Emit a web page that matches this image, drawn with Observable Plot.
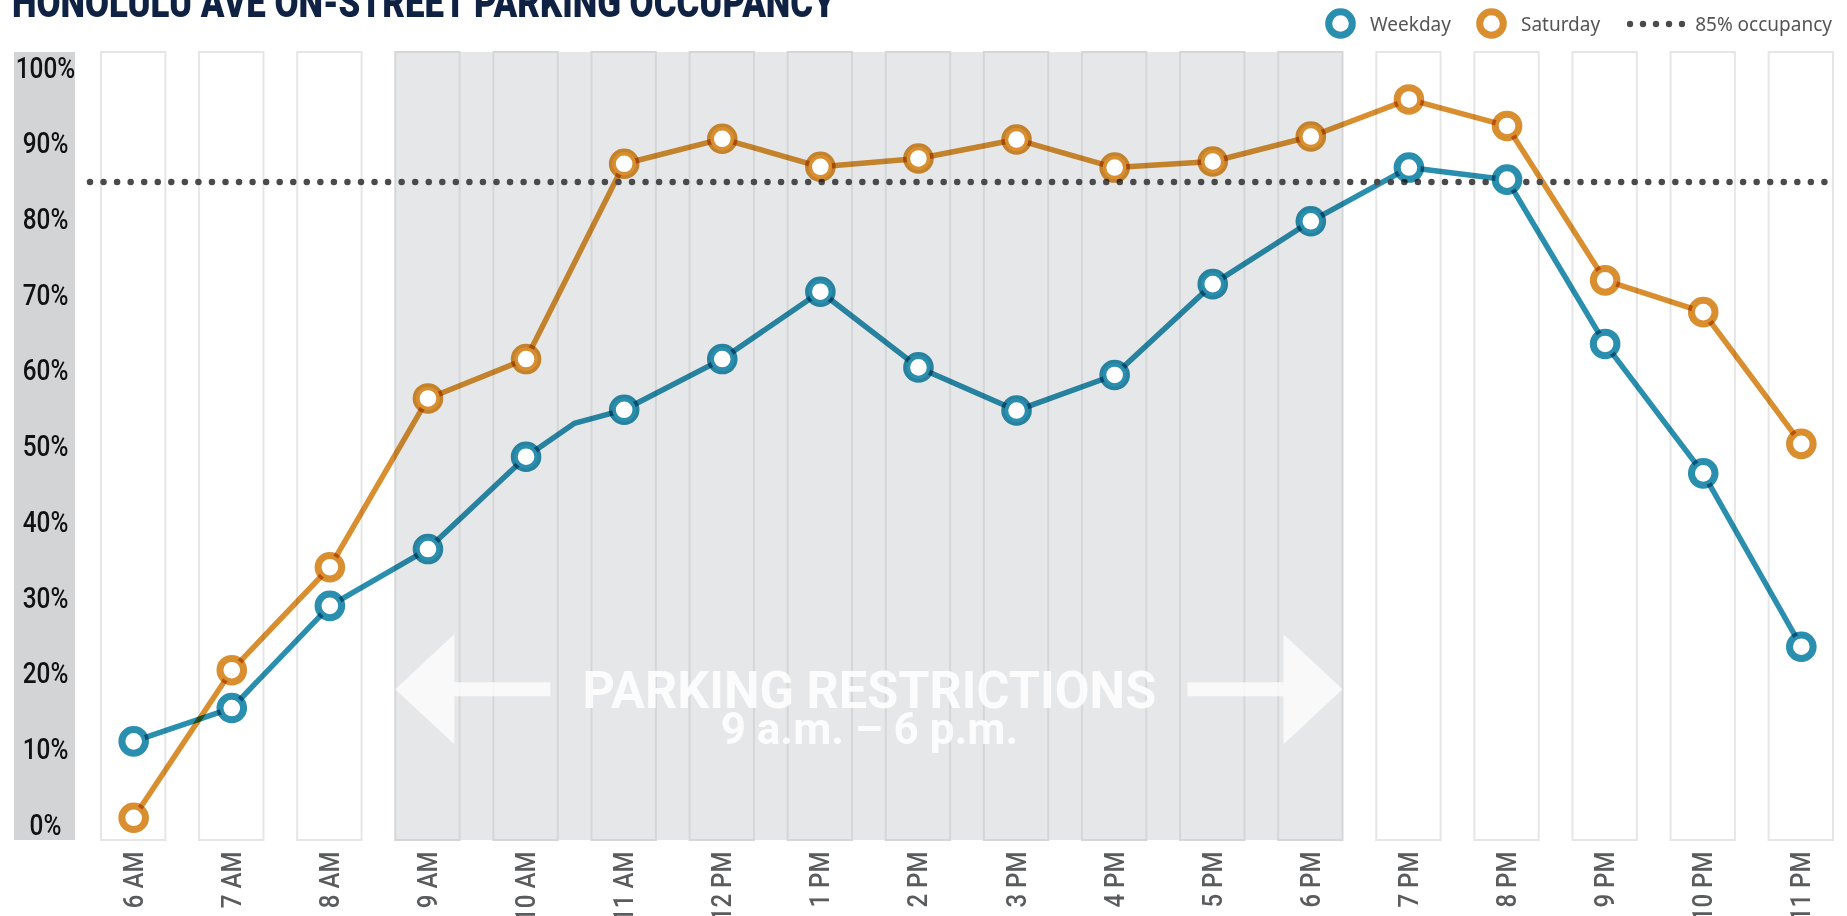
<!DOCTYPE html>
<html>
<head>
<meta charset="utf-8">
<script src="https://cdn.jsdelivr.net/npm/d3@7"></script>
<script src="https://cdn.jsdelivr.net/npm/@observablehq/plot@0.6"></script>
<style>
html, body { margin: 0; padding: 0; background: #fff; width: 1847px; height: 916px; overflow: hidden; }
#wrap { position: relative; width: 1847px; height: 916px; }
#chart { position: absolute; left: 0; top: 0; }
#title { position: absolute; left: 12px; top: -18px; font-family: Roboto, "Liberation Sans", sans-serif; font-weight: 900; font-size: 42px; line-height: 42px; color: #0f2244; white-space: nowrap; transform-origin: 0 0; }
#legend { position: absolute; top: 8px; right: 15px; display: flex; align-items: center; font-family: "Noto Sans", sans-serif; font-size: 19px; color: #555; }
#legend svg { display: block; }
</style>
</head>
<body>
<div id="wrap"><div id="chart"></div><div id="title"></div><div id="legend"></div></div>
<script>
// ---------- data ----------
const hours = [6, 7, 8, 9, 10, 11, 12, 13, 14, 15, 16, 17, 18, 19, 20, 21, 22, 23];
const hourLabels = ["6 AM", "7 AM", "8 AM", "9 AM", "10 AM", "11 AM", "12 PM", "1 PM", "2 PM", "3 PM", "4 PM", "5 PM", "6 PM", "7 PM", "8 PM", "9 PM", "10 PM", "11 PM"];
const weekday  = [11.1, 15.5, 29.0, 36.5, 48.7, 54.9, 61.6, 70.5, 60.5, 54.8, 59.5, 71.5, 79.8, 86.9, 85.3, 63.6, 46.5, 23.6];
const saturday = [1.0, 20.5, 34.1, 56.4, 61.6, 87.4, 90.7, 87.0, 88.1, 90.6, 86.9, 87.7, 91.0, 95.9, 92.4, 72.0, 67.8, 50.4];
// an extra vertex on the weekday line (no marker) between 10 AM and 11 AM
const weekdayVertexHour = [10.49];
const weekdayVertexValue = [53.1];
const yTicks = [0, 10, 20, 30, 40, 50, 60, 70, 80, 90, 100];
const threshold = [85];
const restrictionHours = [9, 18];
const seriesNames = ["Weekday", "Saturday"];
const seriesColors = ["#2a8fae", "#d98f30"];
const thresholdLabel = "85% occupancy";
const titleText = "HONOLULU AVE ON-STREET PARKING OCCUPANCY";
const annotationLines = ["PARKING RESTRICTIONS", "9 a.m. – 6 p.m."];

// ---------- tables ----------
const weekdayPts = hours.map((h, i) => ({hour: h, value: weekday[i]}));
const saturdayPts = hours.map((h, i) => ({hour: h, value: saturday[i]}));
const weekdayLine = weekdayPts
  .concat(weekdayVertexHour.map((h, i) => ({hour: h, value: weekdayVertexValue[i]})))
  .sort((a, b) => a.hour - b.hour);
const inZone = (h) => h >= restrictionHours[0] && h <= restrictionHours[1];
const colHalf = 0.328;
const midHour = (restrictionHours[0] + restrictionHours[1]) / 2;

const W = 1847, H = 916;
const mTop = 52, mBottom = 76, mLeft = 101, mRight = 14;

const chart = Plot.plot({
  width: W,
  height: H,
  marginTop: mTop,
  marginBottom: mBottom,
  marginLeft: mLeft,
  marginRight: mRight,
  style: {fontFamily: "Roboto, sans-serif", overflow: "visible", background: "transparent"},
  x: {type: "linear", domain: [hours[0] - colHalf, hours[hours.length - 1] + colHalf], axis: null},
  y: {domain: [-2, 102.1], axis: null},
  marks: [
    Plot.rect([restrictionHours], {x1: (d) => d[0] - colHalf, x2: (d) => d[1] + colHalf, fill: "#e6e7e8"}),
    Plot.rect(hours.filter((h) => !inZone(h)), {x1: (h) => h - colHalf, x2: (h) => h + colHalf, fill: "#fff", stroke: "#e6e6e6", strokeWidth: 2}),
    Plot.rect(hours.filter(inZone), {x1: (h) => h - colHalf, x2: (h) => h + colHalf, fill: "none", stroke: "#d5d6d8", strokeWidth: 2}),
    Plot.text([annotationLines[0]], {x: midHour, y: 15.5, text: (d) => d, fontSize: 52, fontWeight: 700, fill: "#fff", fillOpacity: 0.85, lineAnchor: "bottom", ariaDescription: "annotation1"}),
    Plot.text([annotationLines[1]], {x: midHour, y: 10.8, text: (d) => d, fontSize: 44, fontWeight: 700, fill: "#fff", fillOpacity: 0.85, lineAnchor: "bottom", ariaDescription: "annotation2"}),
    Plot.line(saturdayPts, {x: "hour", y: "value", stroke: seriesColors[1], strokeWidth: 5.5, mixBlendMode: "multiply"}),
    Plot.line(weekdayLine, {x: "hour", y: "value", stroke: seriesColors[0], strokeWidth: 5.5, mixBlendMode: "multiply"}),
    Plot.ruleY(threshold, {stroke: "#4a4a4c", strokeWidth: 6.5, strokeDasharray: "0 13.55", strokeLinecap: "round", insetLeft: -11}),
    Plot.dot(saturdayPts, {x: "hour", y: "value", r: 11.8, fill: "#fff", stroke: "none"}),
    Plot.dot(saturdayPts, {x: "hour", y: "value", r: 11.8, fill: "none", stroke: seriesColors[1], strokeWidth: 7, mixBlendMode: "multiply"}),
    Plot.dot(weekdayPts, {x: "hour", y: "value", r: 11.8, fill: "#fff", stroke: "none"}),
    Plot.dot(weekdayPts, {x: "hour", y: "value", r: 11.8, fill: "none", stroke: seriesColors[0], strokeWidth: 7, mixBlendMode: "multiply"}),
    Plot.axisY({ticks: yTicks, label: null, tickSize: 0, tickPadding: 0, tickFormat: (d) => d + "%", textAnchor: "middle", dx: -56, fontSize: 29, fontWeight: 500, color: "#111"}),
    Plot.axisX({ticks: hours, label: null, tickFormat: (d) => hourLabels[hours.indexOf(d)], tickRotate: -90, tickSize: 0, tickPadding: 11, fontSize: 28, fontWeight: 500, color: "#5a5b5d"})
  ]
});
document.getElementById("chart").appendChild(chart);

// ---------- decorations ----------
const svg = d3.select(chart);
function lin(s) { const [d0, d1] = s.domain, [r0, r1] = s.range; return (v) => r0 + (v - d0) / (d1 - d0) * (r1 - r0); }
const sx = lin(chart.scale("x")), sy = lin(chart.scale("y"));

// condense tick labels
function squeeze(sel, k) {
  sel.each(function () { const t = this.getAttribute("transform") || ""; this.setAttribute("transform", t + ` scale(${k},1)`); });
}
squeeze(svg.selectAll('g[aria-label="y-axis tick label"] text'), 0.84);
squeeze(svg.selectAll('g[aria-label="x-axis tick label"] text'), 0.86);
squeeze(svg.selectAll('g[aria-description="annotation1"] text'), 0.97);
squeeze(svg.selectAll('g[aria-description="annotation2"] text'), 1.0);

// y axis band
svg.insert("rect", ":first-child")
  .attr("x", 14).attr("y", mTop).attr("width", 61).attr("height", H - mTop - mBottom)
  .attr("fill", "#d3d4d6");

// arrows
const annG = svg.select('g[aria-description="annotation1"]').node();
const yc = sy(17.9);
const xL = sx(restrictionHours[0] - colHalf), xR = sx(restrictionHours[1] + colHalf);
const headL = 59, headH = 55, shaftH = 7, shaftL = 155;
function arrowPath(tip, dir) {
  const b = tip + dir * headL, e = tip + dir * shaftL;
  return `M${tip},${yc}L${b},${yc - headH}L${b},${yc - shaftH}L${e},${yc - shaftH}L${e},${yc + shaftH}L${b},${yc + shaftH}L${b},${yc + headH}Z`;
}
[[xL, 1], [xR, -1]].forEach(([tip, dir]) => {
  const p = document.createElementNS("http://www.w3.org/2000/svg", "path");
  p.setAttribute("d", arrowPath(tip, dir));
  p.setAttribute("fill", "#fff");
  p.setAttribute("fill-opacity", 0.75);
  annG.parentNode.insertBefore(p, annG);
});

// title
const title = document.getElementById("title");
title.textContent = titleText;
const tw = title.getBoundingClientRect().width;
title.style.transform = `scaleX(${823 / tw})`;

// legend
const legend = document.getElementById("legend");
const ns = "http://www.w3.org/2000/svg";
seriesNames.forEach((name, i) => {
  const s = document.createElementNS(ns, "svg");
  s.setAttribute("width", 31); s.setAttribute("height", 31);
  const c = document.createElementNS(ns, "circle");
  c.setAttribute("cx", 15.5); c.setAttribute("cy", 15.5); c.setAttribute("r", 11.8);
  c.setAttribute("fill", "#fff"); c.setAttribute("stroke", seriesColors[i]); c.setAttribute("stroke-width", 7);
  s.appendChild(c);
  if (i > 0) s.style.marginLeft = "25px";
  legend.appendChild(s);
  const t = document.createElement("span");
  t.textContent = name; t.style.marginLeft = "14px";
  legend.appendChild(t);
});
{
  const s = document.createElementNS(ns, "svg");
  s.setAttribute("width", 58); s.setAttribute("height", 31); s.style.marginLeft = "27px";
  for (let k = 0; k < 5; k++) {
    const c = document.createElementNS(ns, "circle");
    c.setAttribute("cx", 3 + k * 13); c.setAttribute("cy", 16); c.setAttribute("r", 3.2); c.setAttribute("fill", "#4a4a4c");
    s.appendChild(c);
  }
  legend.appendChild(s);
  const t = document.createElement("span");
  t.textContent = thresholdLabel; t.style.marginLeft = "10px";
  legend.appendChild(t);
}
</script>
</body>
</html>
